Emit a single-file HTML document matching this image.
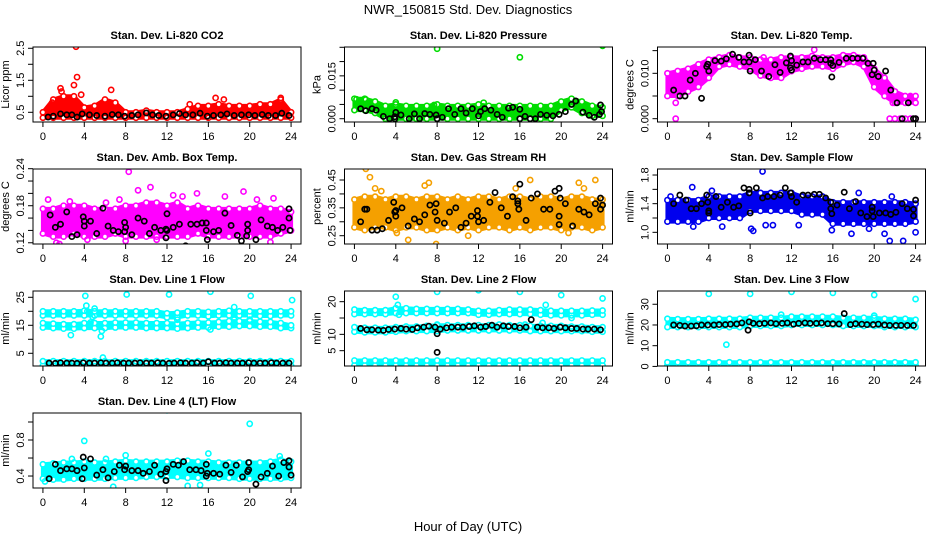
<!DOCTYPE html>
<html><head><meta charset="utf-8"><style>
body{margin:0;background:#fff;}
svg{display:block;font-family:"Liberation Sans",sans-serif;}
</style></head><body>
<svg id="chart" width="936" height="540" viewBox="0 0 936 540">
<text x="468" y="14" text-anchor="middle" font-size="13">NWR_150815  Std. Dev. Diagnostics</text>
<text x="468" y="531" text-anchor="middle" font-size="13">Hour of Day (UTC)</text>
</svg>
<script>
// ---- data ----
const hours = [0,1,2,3,4,5,6,7,8,9,10,11,12,13,14,15,16,17,18,19,20,21,22,23,24];
const xTicks = [0,4,8,12,16,20,24];

const co2Lo = [0.33,0.33,0.33,0.33,0.33,0.33,0.33,0.33,0.33,0.33,0.33,0.33,0.33,0.33,0.33,0.33,0.33,0.33,0.33,0.33,0.33,0.33,0.33,0.33,0.33];
const co2Hi = [0.5,0.9,1.0,1.0,0.65,0.7,0.9,0.8,0.5,0.5,0.55,0.5,0.5,0.5,0.6,0.7,0.7,0.75,0.7,0.7,0.7,0.75,0.75,0.9,0.5];
const co2Out = [[3.2,2.55],[3.3,1.6],[3.0,1.35],[1.7,1.25],[1.8,1.15],[6.6,1.2],[3.7,1.05],[16.7,0.95],[0.9,0.8],[17.5,0.9],[23,0.95],[14.2,0.75]];
const co2Black = [[0.5,0.35],[1,0.38],[1.7,0.45],[2.3,0.42],[2.8,0.42],[3.3,0.35],[3.8,0.45],[4.5,0.42],[5.2,0.4],[6,0.38],[6.7,0.43],[7.3,0.42],[7.9,0.38],[8.6,0.4],[9.2,0.42],[10,0.48],[10.6,0.42],[11.2,0.4],[11.9,0.38],[12.6,0.42],[13.2,0.46],[13.8,0.42],[14.5,0.42],[15.2,0.47],[15.9,0.38],[16.5,0.4],[17.2,0.42],[17.8,0.45],[18.5,0.4],[19.2,0.42],[19.9,0.42],[20.5,0.4],[21.2,0.43],[21.8,0.4],[22.5,0.4],[23.1,0.47],[23.8,0.4]];

const presLo = [0.003,0.003,0.002,0.0,0.0,0.0,0.0,0.0,0.0,0.0,0.0,0.0,0.0,0.0,0.0,0.0,0.0,0.0,0.0,0.0,0.003,0.004,0.002,0.001,0.001];
const presHi = [0.007,0.007,0.006,0.0045,0.005,0.0045,0.0045,0.0045,0.005,0.0045,0.0045,0.0045,0.005,0.0045,0.0045,0.0045,0.0045,0.0045,0.0045,0.0045,0.006,0.007,0.006,0.0045,0.004];
const presOut = [[8,0.0245],[16,0.0215],[24,0.0255],[0.2,0.0068],[1.1,0.0067],[4,0.0057],[7.7,0.0048],[12.5,0.0056]];
const presBlack = [[0.6,0.0035],[1.1,0.0028],[1.7,0.0035],[2.1,0.003],[2.8,0.0008],[3.4,0],[3.9,0],[3.9,0.0007],[4,0.0022],[4.5,0.0013],[5.3,0],[5.8,0.0017],[6.3,0],[6.8,0.0018],[7.3,0.0015],[7.9,0.0013],[8,0],[8.5,0.0005],[9.1,0.0035],[9.7,0.0015],[10.3,0.0035],[10.8,0.002],[11.4,0.0035],[12,0.001],[12.2,0.0025],[12.6,0.0035],[13.2,0.003],[13.8,0.0015],[14.3,0.0005],[14.9,0.0037],[15.3,0.004],[16,0.0033],[16,0],[16.5,0.0008],[17,0],[17.5,0],[18,0.0015],[18.6,0.0012],[19.2,0.001],[19.8,0.0015],[20.4,0.0025],[21,0.005],[21.4,0.0062],[22.1,0.0023],[22.7,0.0012],[23.2,0.0005],[23.7,0.0015],[23.9,0.0025],[23.8,0.0048]];

const tempLo = [0.005,0.005,0.006,0.007,0.009,0.0115,0.012,0.0115,0.011,0.0095,0.009,0.009,0.0105,0.011,0.0115,0.0115,0.011,0.012,0.0125,0.0115,0.007,0.005,0.0035,0.0035,0.0035];
const tempHi = [0.010,0.0105,0.011,0.012,0.013,0.0135,0.014,0.0135,0.0135,0.013,0.013,0.0135,0.0135,0.0135,0.0138,0.0135,0.0135,0.014,0.014,0.0135,0.011,0.009,0.006,0.005,0.005];
const tempOut = [[0.8,0],[0.8,0.0035],[14.2,0.0152],[21.5,0],[22,0],[22.5,0],[23,0],[23.5,0],[24,0],[21.8,0.0035],[23.5,0.005],[9.3,0.0135]];
const tempBlack = [[0.6,0.0063],[1.2,0.005],[1.7,0.005],[2.2,0.0085],[2.7,0.0100],[3.3,0.0045],[3.8,0.0115],[3.9,0.0120],[4,0.0105],[4.6,0.0128],[5.2,0.0127],[5.7,0.0132],[6.3,0.0142],[6.9,0.0135],[7.4,0.0125],[7.9,0.0140],[7.9,0.0125],[8,0.0105],[8.5,0.0130],[9.1,0.0105],[9.8,0.0093],[10.4,0.0119],[10.9,0.0102],[11.5,0.0123],[11.9,0.0138],[11.9,0.0112],[12,0.0128],[12,0.0107],[12.5,0.0118],[13.1,0.0125],[13.6,0.0125],[14.2,0.0133],[14.8,0.0130],[15.3,0.0130],[15.8,0.0130],[15.8,0.0122],[15.9,0.0092],[16,0.0117],[16.6,0.0124],[17.3,0.0133],[17.9,0.0133],[18.4,0.0133],[18.9,0.0133],[19.4,0.0122],[19.9,0.0122],[19.8,0.0097],[20,0.0107],[20.4,0.0093],[21.1,0.0105],[21.6,0.0063],[22.2,0.0035],[22.7,0],[23.3,0.0035],[23.8,0],[24,0]];

const boxLo = [0.135,0.13,0.13,0.135,0.13,0.13,0.13,0.135,0.13,0.13,0.13,0.13,0.13,0.13,0.13,0.135,0.13,0.13,0.13,0.13,0.13,0.13,0.13,0.135,0.14];
const boxHi = [0.175,0.175,0.18,0.18,0.18,0.175,0.175,0.175,0.18,0.18,0.185,0.185,0.18,0.185,0.175,0.18,0.175,0.175,0.175,0.175,0.175,0.18,0.175,0.175,0.17];
const boxOut = [[8.3,0.235],[10.4,0.21],[9.2,0.205],[14.9,0.2],[19.4,0.203],[17.6,0.195],[12.6,0.197],[13.5,0.195],[22.3,0.192],[1.3,0.12],[8,0.123],[22,0.121],[0.5,0.19],[6.1,0.185],[7.4,0.19],[20.7,0.19],[2.6,0.187],[1.6,0.118],[4.3,0.125],[11,0.125]];
const boxBlack = [[0.7,0.165],[1.2,0.145],[1.7,0.15],[2.3,0.17],[2.8,0.13],[3.3,0.133],[3.9,0.162],[4,0.155],[4,0.147],[4.6,0.155],[5.2,0.135],[5.8,0.176],[6.3,0.147],[6.8,0.14],[7.3,0.138],[7.9,0.138],[7.9,0.153],[8,0.145],[8.6,0.133],[9.2,0.16],[9.8,0.155],[10.3,0.135],[10.8,0.145],[11.4,0.14],[11.9,0.128],[11.9,0.142],[12,0.167],[12,0.14],[12.6,0.145],[13.2,0.15],[13.8,0.115],[14.3,0.15],[14.9,0.15],[15.4,0.152],[15.8,0.152],[15.8,0.14],[15.9,0.125],[16.5,0.138],[17,0.14],[17.6,0.168],[18.2,0.148],[18.8,0.132],[19.2,0.123],[19.7,0.131],[19.8,0.15],[19.8,0.14],[20.6,0.125],[21.1,0.157],[21.7,0.147],[22.2,0.145],[22.7,0.14],[23.2,0.145],[23.8,0.16],[23.8,0.175],[23.9,0.14]];

const rhLo = [0.28,0.27,0.28,0.28,0.27,0.28,0.28,0.27,0.27,0.28,0.27,0.28,0.27,0.28,0.28,0.27,0.28,0.27,0.28,0.28,0.27,0.28,0.28,0.27,0.28];
const rhHi = [0.38,0.39,0.39,0.38,0.39,0.39,0.38,0.39,0.39,0.38,0.39,0.38,0.39,0.39,0.38,0.39,0.39,0.38,0.39,0.39,0.38,0.39,0.39,0.38,0.38];
const rhOut = [[1.1,0.49],[1.5,0.46],[2,0.42],[7.2,0.44],[17,0.45],[23.3,0.45],[21.7,0.44],[7.9,0.22],[5.2,0.235],[11,0.25],[20.7,0.26],[4.1,0.26],[6.8,0.43],[22.2,0.42],[2.6,0.41],[15.6,0.42]];
const rhBlack = [[0.6,0.30],[1.0,0.345],[1.2,0.345],[1.7,0.27],[2.2,0.27],[2.7,0.275],[3.3,0.305],[3.8,0.37],[3.9,0.335],[4,0.32],[4,0.34],[4.6,0.35],[5.2,0.285],[5.8,0.31],[6.3,0.30],[6.8,0.325],[7.3,0.36],[7.9,0.365],[7.8,0.335],[8,0.305],[8.7,0.295],[9.2,0.335],[9.8,0.35],[10.3,0.28],[10.8,0.295],[11.3,0.32],[11.9,0.34],[11.9,0.32],[12,0.30],[12.5,0.305],[13.1,0.37],[13.6,0.405],[14.2,0.35],[14.8,0.32],[15.3,0.39],[15.8,0.375],[15.8,0.365],[15.9,0.345],[16,0.435],[16.6,0.305],[17.1,0.385],[17.7,0.4],[18.3,0.345],[18.9,0.345],[19.4,0.41],[19.8,0.42],[19.9,0.385],[19.8,0.32],[19.8,0.29],[20.4,0.365],[21.1,0.285],[21.7,0.345],[22.2,0.335],[22.7,0.325],[23.3,0.365],[23.8,0.385],[23.8,0.345],[24,0.36]];

const flowLo = [1.15,1.15,1.15,1.15,1.2,1.2,1.2,1.2,1.3,1.3,1.3,1.3,1.3,1.25,1.25,1.25,1.12,1.12,1.12,1.12,1.12,1.12,1.12,1.12,1.15];
const flowHi = [1.45,1.45,1.45,1.45,1.5,1.5,1.5,1.5,1.55,1.55,1.55,1.55,1.55,1.5,1.5,1.5,1.42,1.42,1.42,1.42,1.42,1.42,1.42,1.42,1.4];
const flowOut = [[9.2,1.85],[2.4,1.63],[4.3,1.58],[8.1,1.05],[8.3,1.02],[9.5,1.1],[10.2,1.1],[12.7,1.1],[15.9,1.03],[17.8,0.98],[21,0.98],[21.5,0.88],[22.8,0.88],[24,1.0],[18.5,1.55],[0.3,1.5],[5.3,1.08],[2.5,1.08],[19.5,1.05],[21.7,1.5]];
const flowBlack = [[0.6,1.4],[1.2,1.52],[1.8,1.45],[2.3,1.33],[2.8,1.33],[3.3,1.4],[3.8,1.52],[3.9,1.42],[4,1.3],[4,1.27],[4.7,1.5],[5.2,1.35],[5.8,1.42],[6.4,1.35],[6.9,1.37],[7.4,1.62],[7.9,1.6],[7.9,1.55],[8,1.27],[8.6,1.62],[9.2,1.48],[9.7,1.5],[10.3,1.5],[10.9,1.52],[11.4,1.62],[11.9,1.55],[12,1.5],[12.5,1.42],[13.1,1.52],[13.6,1.52],[14.2,1.53],[14.7,1.53],[15.3,1.48],[15.8,1.42],[15.8,1.33],[15.9,1.26],[16.4,1.38],[17.1,1.56],[17.6,1.33],[18.2,1.43],[18.7,1.27],[19.3,1.22],[19.8,1.3],[19.8,1.35],[19.9,1.22],[20.5,1.27],[21.1,1.27],[21.6,1.25],[22.1,1.28],[22.7,1.4],[23.2,1.33],[23.8,1.32],[23.8,1.23],[24,1.45]];

const lineT = [0.6,1.2,1.7,2.3,2.8,3.3,3.9,4.5,5.0,5.6,6.1,6.7,7.2,7.8,8.3,8.9,9.4,10.0,10.5,11.1,11.6,12.2,12.7,13.3,13.8,14.4,14.9,15.5,16.0,16.6,17.1,17.7,18.2,18.8,19.3,19.9,20.4,21.0,21.5,22.1,22.6,23.2,23.8];

const l1UpLo = [18.5,18.5,18.5,18.5,18.5,18.5,18.5,18.5,18.5,18.5,18.5,18.5,17.8,17.8,18.5,18.5,18.2,18.5,18.5,18.5,18.5,18.3,18.3,18.5,18.5];
const l1UpHi = [20,20,20,20,20.2,20,20,20,20,20,20,20,19.3,19.5,20,20,19.8,20,20.2,20,20,20,20,20,20];
const l1MidLo = [14.2,14,13.8,13.8,14,14,14,14.2,14.2,14.2,14,14,14,13.8,14,14.2,14.2,14.5,14.5,14.7,14.7,14.5,14.5,14,14];
const l1MidHi = [15.8,15.6,15.4,15.4,15.8,15.8,15.8,16,16,16,15.8,15.8,15.8,15.6,15.8,16,16,16.2,16.5,16.5,16.5,16.3,16.2,15.8,15];
const l1BotLo = [0.6,0.6,0.6,0.6,0.6,0.6,0.6,0.6,0.6,0.6,0.6,0.6,0.6,0.6,0.6,0.6,0.6,0.6,0.6,0.6,0.6,0.6,0.6,0.6,0.6];
const l1BotHi = [2.2,2.2,2.2,2.2,2.2,2.2,2.2,2.2,2.2,2.2,2.2,2.2,2.2,2.2,2.2,2.2,2.2,2.2,2.2,2.2,2.2,2.2,2.2,2.2,2.2];
const l1Out = [[4.1,25.5],[8.1,26],[12.2,26],[16.2,27],[20.1,25.5],[24.1,24],[4.2,22],[4.3,20],[4.6,16],[4.8,18],[5.0,21],[2.7,11.5],[5.6,11],[5.7,13],[5.8,3.5],[16.2,13.5],[18.5,21.5],[18.5,17],[20,17],[13,17]];
const l1BlackV = [1.5,1.4,1.6,1.5,1.5,1.4,1.6,1.5,1.5,1.6,1.5,1.5,1.6,1.5,1.5,1.5,1.6,1.5,1.5,1.6,1.5,1.4,1.5,1.6,1.5,1.5,1.6,1.5,2.0,1.5,1.5,1.6,1.5,1.5,1.5,1.6,1.5,1.5,1.5,1.6,1.5,1.5,1.5];

const l2UpLo = [16.2,16.2,16.2,16.2,16.5,16.5,16.5,16.5,16.5,16.5,16.5,16.5,16,16,16.2,16.2,16.2,16.2,16,15.8,15.8,15.8,15.8,16,16];
const l2UpHi = [17.6,17.4,17.4,17.4,18,18,17.8,17.8,17.8,17.8,17.8,17.6,17.2,17.2,17.4,17.6,17.6,17.6,17.4,17.2,17.2,17.2,17.2,17.3,17.3];
const l2MidLo = [10.8,10.6,10.6,10.6,10.8,11,11,11,11,11.2,11.2,11.2,11.2,11.2,11.2,11.2,11.2,11,11,11,11,11,11,10.8,10.8];
const l2MidHi = [12.2,12.0,12.0,12.0,12.2,12.4,12.4,12.6,12.8,12.8,12.8,12.8,12.8,12.8,13,12.8,12.8,12.6,12.6,12.6,12.6,12.4,12.4,12.2,12.2];
const l2BotLo = [0.5,0.5,0.5,0.5,0.5,0.5,0.5,0.5,0.5,0.5,0.5,0.5,0.5,0.5,0.5,0.5,0.5,0.5,0.5,0.5,0.5,0.5,0.5,0.5,0.5];
const l2BotHi = [2.0,2.0,2.0,2.0,2.0,2.0,2.0,2.0,2.0,2.0,2.0,2.0,2.0,2.0,2.0,2.0,2.0,2.0,2.0,2.0,2.0,2.0,2.0,2.0,2.0];
const l2Out = [[4,21.5],[8,23],[12,23.5],[16,23],[20,22],[24,21],[4.2,19],[4.3,16],[18.5,19],[18.2,13.5],[21,15],[8,13],[16.5,13]];
const l2BlackV = [11.8,11.4,11.4,11.3,11.2,11.5,11.6,11.8,11.6,11.5,12,12.2,12.5,12.2,11.6,12,12.2,12.2,12.2,12.4,12.6,12.2,12.4,12.8,12.2,12.6,12.4,12.4,12,12.2,14.5,12.2,12,12,11.8,12.2,12,11.8,11.8,11.6,11.6,11.6,11.4];

const l3UpLo = [19,19,19,19,19,19,19,19,19.5,19.5,19.5,19.5,20,20,20,20,20,19.5,19.5,19.5,19.5,19,19,19,19];
const l3UpHi = [23,22.8,22.8,22.8,23,23,23,23,23.5,23.5,23.5,23.5,24,24,24,24,24,23.5,23.5,23.5,23.5,23,23,23,22.5];
const l3BotLo = [0.5,0.5,0.5,0.5,0.5,0.5,0.5,0.5,0.5,0.5,0.5,0.5,0.5,0.5,0.5,0.5,0.5,0.5,0.5,0.5,0.5,0.5,0.5,0.5,0.5];
const l3BotHi = [2.0,2.0,2.0,2.0,2.0,2.0,2.0,2.0,2.0,2.0,2.0,2.0,2.0,2.0,2.0,2.0,2.0,2.0,2.0,2.0,2.0,2.0,2.0,2.0,2.0];
const l3Out = [[4,35],[8,35],[12,36],[16,35.5],[20,34.5],[24,32.5],[5.7,10.5],[11,25],[20,24.5]];
const l3BlackV = [20,19.8,19.5,19.5,19.6,20,20,20,20.2,20.2,20.4,20.5,21,17.5,20.8,20.6,20.8,21,20.6,20.8,21,20.4,20.8,21,20.8,20.8,21,20.6,20.6,20.5,25.5,20.2,20.6,20.4,20.2,20.2,20.4,20,19.8,19.8,19.8,19.8,19.8];

const l4Lo = [0.37,0.36,0.36,0.37,0.37,0.37,0.37,0.38,0.38,0.38,0.39,0.39,0.39,0.39,0.38,0.38,0.38,0.38,0.38,0.37,0.37,0.37,0.37,0.37,0.38];
const l4Hi = [0.53,0.54,0.55,0.55,0.56,0.55,0.55,0.56,0.57,0.56,0.56,0.56,0.56,0.57,0.57,0.56,0.56,0.55,0.55,0.55,0.55,0.55,0.56,0.58,0.56];
const l4Out = [[12,1.13],[20,0.98],[4,0.79],[8,0.63],[16,0.65],[6.8,0.28],[14,0.29],[15.2,0.3],[0.2,0.34],[22.9,0.62],[2.8,0.59],[6.1,0.59]];
const l4Black = [[0.6,0.37],[1.2,0.53],[1.7,0.46],[2.3,0.48],[2.8,0.48],[3.3,0.46],[3.8,0.37],[3.9,0.61],[4,0.49],[4.6,0.59],[5.2,0.41],[5.8,0.47],[6.3,0.38],[6.9,0.45],[7.4,0.52],[7.9,0.47],[8,0.51],[8.6,0.46],[9.2,0.46],[9.7,0.43],[10.3,0.45],[10.8,0.52],[11.4,0.42],[11.9,0.45],[11.9,0.35],[12,0.48],[12.6,0.53],[13.1,0.52],[13.6,0.56],[14.2,0.47],[14.8,0.47],[15.3,0.46],[15.8,0.53],[15.8,0.4],[15.9,0.43],[16.5,0.43],[17.1,0.42],[17.7,0.52],[18.2,0.44],[18.7,0.52],[19.3,0.39],[19.8,0.45],[19.9,0.47],[19.9,0.55],[20.6,0.31],[21.1,0.39],[21.7,0.43],[22.2,0.51],[22.8,0.4],[23.3,0.55],[23.8,0.57],[23.8,0.5],[24,0.41]];

// ---- layout ----
const NS = 'http://www.w3.org/2000/svg';
const svg = document.getElementById('chart');
const colLeft = [33, 344.5, 657.5], rowTop = [47, 169, 291, 413];
const W = 268, H = 75, XMIN = -0.96, XMAX = 24.96;
function mk(tag, attrs, parent){const e=document.createElementNS(NS,tag);for(const k in attrs)e.setAttribute(k,attrs[k]);(parent||svg).appendChild(e);return e;}
function zip(t,v){return t.map((x,i)=>[x,v[i]]);}

const panels = [
 {title:'Stan. Dev. Li-820 CO2', ylab:'Licor ppm', col:'#ff0000', dom:[0.197,2.54], ticks:[0.5,1,1.5,2,2.5], labs:['0.5','','1.5','','2.5'], bands:[[co2Lo,co2Hi]], out:co2Out, black:co2Black},
 {title:'Stan. Dev. Li-820 Pressure', ylab:'kPa', col:'#00dd00', dom:[-0.00115,0.0251], ticks:[0,0.005,0.01,0.015,0.02,0.025], labs:['0.000','','','0.015','',''], bands:[[presLo,presHi]], out:presOut, black:presBlack},
 {title:'Stan. Dev. Li-820 Temp.', ylab:'degrees C', col:'#ff00ff', dom:[-0.00073,0.0158], ticks:[0,0.005,0.01,0.015], labs:['0.000','','0.010',''], bands:[[tempLo,tempHi]], out:tempOut, black:tempBlack},
 {title:'Stan. Dev. Amb. Box Temp.', ylab:'degrees C', col:'#ff00ff', dom:[0.118,0.2395], ticks:[0.12,0.14,0.16,0.18,0.2,0.22,0.24], labs:['0.12','','','0.18','','','0.24'], bands:[[boxLo,boxHi]], out:boxOut, black:boxBlack},
 {title:'Stan. Dev. Gas Stream RH', ylab:'percent', col:'#f5a000', dom:[0.2202,0.4895], ticks:[0.25,0.3,0.35,0.4,0.45], labs:['0.25','','0.35','','0.45'], bands:[[rhLo,rhHi]], out:rhOut, black:rhBlack},
 {title:'Stan. Dev. Sample Flow', ylab:'ml/min', col:'#0000ee', dom:[0.837,1.884], ticks:[1.0,1.2,1.4,1.6,1.8], labs:['1.0','','1.4','','1.8'], bands:[[flowLo,flowHi]], out:flowOut, black:flowBlack},
 {title:'Stan. Dev. Line 1 Flow', ylab:'ml/min', col:'#00ffff', dom:[0.46,27.25], ticks:[5,10,15,20,25], labs:['5','','15','','25'], bands:[[l1UpLo,l1UpHi],[l1MidLo,l1MidHi],[l1BotLo,l1BotHi]], out:l1Out, black:zip(lineT,l1BlackV)},
 {title:'Stan. Dev. Line 2 Flow', ylab:'ml/min', col:'#00ffff', dom:[0.31,23.27], ticks:[5,10,15,20], labs:['5','10','','20'], bands:[[l2UpLo,l2UpHi],[l2MidLo,l2MidHi],[l2BotLo,l2BotHi]], out:l2Out, black:zip(lineT,l2BlackV).concat([[8,4.5],[8,10.2]])},
 {title:'Stan. Dev. Line 3 Flow', ylab:'ml/min', col:'#00ffff', dom:[0.2,36.4], ticks:[0,10,20,30], labs:['0','10','20','30'], bands:[[l3UpLo,l3UpHi],[l3BotLo,l3BotHi]], out:l3Out, black:zip(lineT,l3BlackV).concat([[7.9,21.5]])},
 {title:'Stan. Dev. Line 4 (LT) Flow', ylab:'ml/min', col:'#00ffff', dom:[0.267,1.1], ticks:[0.4,0.6,0.8,1.0], labs:['0.4','','0.8',''], bands:[[l4Lo,l4Hi]], out:l4Out, black:l4Black}
];

panels.forEach((p,i)=>{
  const L = colLeft[i%3], T = rowTop[Math.floor(i/3)], B = T+H, R = L+W;
  const slug = p.title.toLowerCase().replace(/stan\. dev\. /,'').replace(/[^a-z0-9]+/g,'-').replace(/-$/,'');
  const g = mk('g',{});
  
  
  const xs = t => L + (t-XMIN)/(XMAX-XMIN)*W;
  const ys = v => B - (v-p.dom[0])/(p.dom[1]-p.dom[0])*H;
  const clip = 'c'+i;
  const cp = mk('clipPath',{id:clip},g); mk('rect',{x:L,y:T,width:W,height:H},cp);
  const dg = mk('g',{'clip-path':'url(#'+clip+')'},g);
  
  
  // bands (dense point clouds)
  p.bands.forEach(([lo,hi])=>{
    const pts = hours.map((h,k)=>xs(h)+','+ys(hi[k])).concat(hours.slice().reverse().map((h,k)=>xs(h)+','+ys(lo[hours.length-1-k])));
    const poly = mk('polygon',{points:pts.join(' '),fill:p.col,stroke:p.col,'stroke-width':4,'stroke-linejoin':'round'},dg);
    
    
    hours.forEach((h,k)=>{
      [lo[k],hi[k]].forEach(v=>{
        const c = mk('circle',{cx:xs(h),cy:ys(v),r:2.6,fill:'#fff',stroke:p.col,'stroke-width':1.6},dg);
        
        
      });
    });
  });
  p.out.forEach(([t,v])=>{
    const c = mk('circle',{cx:xs(t),cy:ys(v),r:2.6,fill:'none',stroke:p.col,'stroke-width':1.6},dg);
    
    
  });
  p.black.forEach(([t,v])=>{
    const c = mk('circle',{cx:xs(t),cy:ys(v),r:2.6,fill:'none',stroke:'#000','stroke-width':1.7},dg);
    
    
  });
  const box = mk('rect',{x:L,y:T,width:W,height:H,fill:'none',stroke:'#000','stroke-width':1},g);
  
  
  // x axis
  xTicks.forEach(t=>{
    mk('line',{x1:xs(t),x2:xs(t),y1:B,y2:B+5,stroke:'#000'},g);
    const tx = mk('text',{x:xs(t),y:B+18,'text-anchor':'middle','font-size':11},g);
    tx.textContent = t;
    
    
  });
  mk('line',{x1:xs(0),x2:xs(24),y1:B,y2:B,stroke:'#000'},g);
  // y axis
  p.ticks.forEach((v,k)=>{
    mk('line',{x1:L-5,x2:L,y1:ys(v),y2:ys(v),stroke:'#000'},g);
    if(p.labs[k]){
      const tx = mk('text',{x:L-9,y:ys(v),'text-anchor':'middle','font-size':11,transform:'rotate(-90 '+(L-9)+' '+ys(v)+')'},g);
      tx.textContent = p.labs[k];
      
      
    }
  });
  mk('line',{x1:L,x2:L,y1:ys(p.ticks[0]),y2:ys(p.ticks[p.ticks.length-1]),stroke:'#000'},g);
  const yl = mk('text',{x:L-24,y:T+H/2,'text-anchor':'middle','font-size':11,transform:'rotate(-90 '+(L-24)+' '+(T+H/2)+')'},g);
  yl.textContent = p.ylab;
  
  
  const tt = mk('text',{x:L+W/2,y:T-8,'text-anchor':'middle','font-size':11,'font-weight':'bold'},g);
  tt.textContent = p.title;
  
  
});
</script>
</body></html>
